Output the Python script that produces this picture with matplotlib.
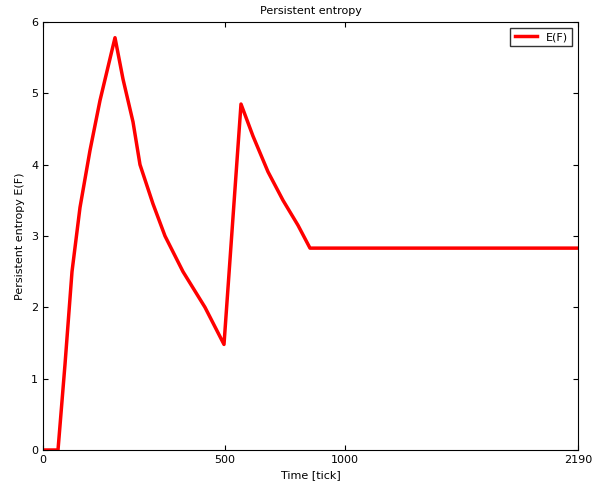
import matplotlib
matplotlib.use("Agg")
import matplotlib.pyplot as plt

# x positions along axis (axis units), y values
xs = [0, 15, 22, 29, 37, 47, 57, 72, 80, 90, 97, 110, 122, 140, 162, 181, 198, 210, 225, 240, 255, 267, 535]
ys = [0, 0, 1.2, 2.5, 3.4, 4.2, 4.9, 5.78, 5.2, 4.6, 4.0, 3.45, 3.0, 2.5, 2.0, 1.48, 4.85, 4.4, 3.9, 3.5, 3.15, 2.83, 2.83]
tick_pos = [0, 182, 302, 535]
tick_labels = ["0", "500", "1000", "2190"]

fig = plt.figure(figsize=(6.0, 4.96), dpi=100)
ax = fig.add_axes([43/600, 46/496, 535/600, 428/496])
ax.plot(xs, ys, color="red", lw=2.5, label="E(F)")
ax.set_xlim(0, 535)
ax.set_ylim(0, 6)
ax.set_xticks(tick_pos)
ax.set_xticklabels(tick_labels)
ax.tick_params(direction="in", labelsize=8, top=True, right=True)
ax.set_xlabel("Time [tick]", fontsize=8)
ax.set_ylabel("Persistent entropy E(F)", fontsize=8)
ax.set_title("Persistent entropy", fontsize=8)
ax.legend(loc="upper right", fontsize=8, fancybox=False, edgecolor="black")
fig.savefig("out.png", dpi=100)
